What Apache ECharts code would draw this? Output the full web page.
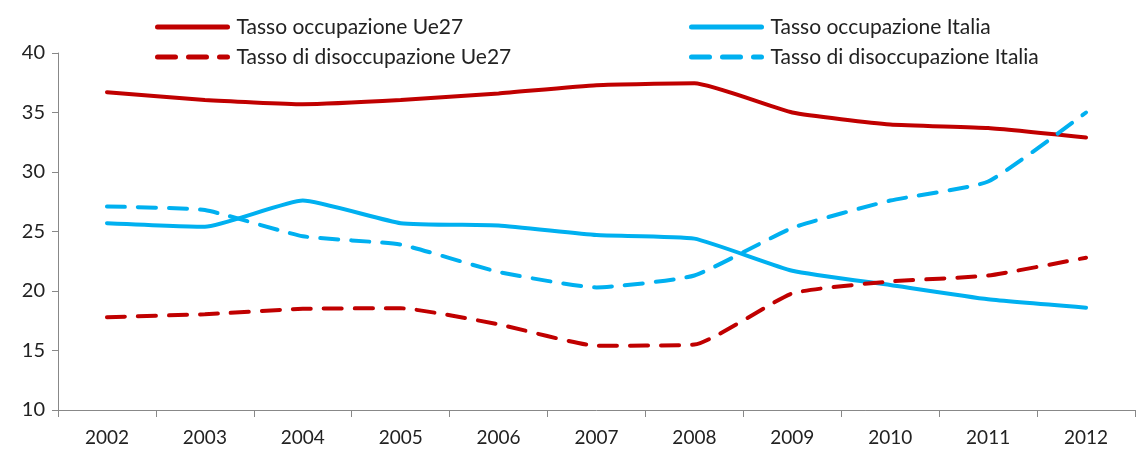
<!DOCTYPE html>
<html lang="it">
<head>
    <meta charset="UTF-8">
    <script src="https://cdn.jsdelivr.net/npm/echarts@6/dist/echarts.min.js"></script>
    <title>Tassi occupazione e disoccupazione</title>
</head>
<body style="margin:0">
<div id="main" style="width: 1138px;height:450px;"></div>
<script type="text/javascript">
    // dati
    var anni = ['2002', '2003', '2004', '2005', '2006', '2007', '2008', '2009', '2010', '2011', '2012'];
    var occUe27 = [36.7, 36.05, 35.7, 36.05, 36.6, 37.3, 37.45, 35.0, 34.0, 33.7, 32.9];
    var occItalia = [25.7, 25.4, 27.6, 25.7, 25.5, 24.7, 24.4, 21.7, 20.5, 19.3, 18.6];
    var disUe27 = [17.8, 18.05, 18.5, 18.55, 17.2, 15.4, 15.5, 19.8, 20.8, 21.3, 22.8];
    var disItalia = [27.1, 26.8, 24.6, 23.9, 21.6, 20.3, 21.3, 25.3, 27.6, 29.2, 35.0];

    var rosso = '#C00000';
    var azzurro = '#00B0F0';
    var font = 'Lato, "Open Sans", sans-serif';

    var myChart = echarts.init(document.getElementById('main'));

    function serie(nome, dati, colore, tratteggio) {
        return {
            name: nome,
            type: 'line',
            data: dati,
            symbol: 'none',
            smooth: 0.15,
            animation: false,
            lineStyle: {
                color: colore,
                width: 4,
                type: tratteggio ? [18, 13] : 'solid',
                cap: 'round'
            },
            itemStyle: { color: colore }
        };
    }

    // legenda su due colonne: Ue27 a sinistra, Italia a destra
    var legendaBase = {
        orient: 'vertical',
        top: 11,
        itemWidth: 70,
        itemHeight: 14,
        itemGap: 8,
        itemStyle: { opacity: 0 },
        lineStyle: { width: 5 },
        textStyle: { fontFamily: font, fontSize: 21, lineHeight: 22, color: '#222', padding: [0, 0, 0, 4] }
    };

    var option = {
        backgroundColor: '#fff',
        legend: [
            Object.assign({}, legendaBase, {
                left: 150,
                data: ['Tasso occupazione Ue27', 'Tasso di disoccupazione Ue27']
            }),
            Object.assign({}, legendaBase, {
                left: 684,
                data: ['Tasso occupazione Italia', 'Tasso di disoccupazione Italia']
            })
        ],
        grid: {
            left: 58,
            right: 3,
            top: 53,
            bottom: 40,
            containLabel: false
        },
        xAxis: {
            type: 'category',
            data: anni,
            boundaryGap: true,
            axisLine: { lineStyle: { color: '#888', width: 1 } },
            axisTick: { show: true, length: 7, lineStyle: { color: '#888' } },
            axisLabel: { fontFamily: font, fontSize: 19, color: '#222', margin: 18 },
            splitLine: { show: false }
        },
        yAxis: {
            type: 'value',
            min: 10,
            max: 40,
            interval: 5,
            axisLine: { show: true, lineStyle: { color: '#888', width: 1 } },
            axisTick: { show: true, length: 6, lineStyle: { color: '#888' } },
            axisLabel: { fontFamily: font, fontSize: 20, color: '#222', margin: 13 },
            splitLine: { show: false }
        },
        series: [
            serie('Tasso occupazione Ue27', occUe27, rosso, false),
            serie('Tasso occupazione Italia', occItalia, azzurro, false),
            serie('Tasso di disoccupazione Ue27', disUe27, rosso, true),
            serie('Tasso di disoccupazione Italia', disItalia, azzurro, true)
        ]
    };

    myChart.setOption(option);
</script>
</body>
</html>
